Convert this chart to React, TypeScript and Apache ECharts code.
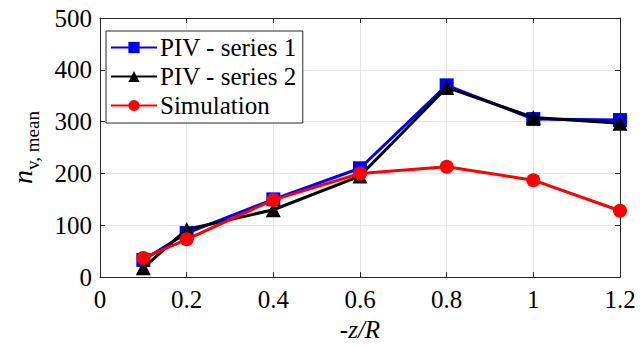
import React, { useEffect, useRef } from "react";
import * as echarts from "echarts";

const xValues = [0.1, 0.2, 0.4, 0.6, 0.8, 1.0, 1.2];
const pivSeries1 = [33, 85, 150, 210, 370, 305, 303];
const pivSeries2 = [18, 92, 130, 195, 366, 308, 297];
const simulation = [37, 73, 149, 200, 213, 187, 128];
const seriesNames = ["PIV - series 1", "PIV - series 2", "Simulation"];

const FONT = "Liberation Serif";
const AXIS_COLOR = "#262626";

function pairs(ys: number[]) {
  return xValues.map((x, i) => [x, ys[i]]);
}

export default function App() {
  const ref = useRef<HTMLDivElement>(null);
  useEffect(() => {
    if (!ref.current) return;
    const chart = echarts.init(ref.current, undefined, { renderer: "svg" });
    const axisCommon = {
      axisLine: { show: true, onZero: false, lineStyle: { color: AXIS_COLOR, width: 1 } },
      axisTick: { show: true, inside: true, length: 5, lineStyle: { color: AXIS_COLOR } },
    };
    chart.setOption({
      animation: false,
      backgroundColor: "#ffffff",
      textStyle: { fontFamily: FONT },
      grid: { left: 93, right: 24, top: 18, bottom: 68, containLabel: false },
      legend: {
        left: 106,
        top: 31,
        orient: "vertical",
        data: seriesNames,
        itemWidth: 46,
        itemHeight: 14,
        itemGap: 0,
        padding: [2, 6, 3, 4],
        borderColor: AXIS_COLOR,
        borderWidth: 1,
        backgroundColor: "#ffffff",
        textStyle: { fontFamily: FONT, fontSize: 25, color: "#000", lineHeight: 29, padding: [0, 0, 0, -2] },
      },
      xAxis: [
        {
          type: "value",
          min: 0,
          max: 1.2,
          interval: 0.2,
          ...axisCommon,
          axisLabel: { fontFamily: FONT, fontSize: 25, color: "#000", margin: 10 },
          splitLine: { show: true, lineStyle: { color: "#e6e6e6", width: 1 } },
          name: "-z/R",
          nameLocation: "middle",
          nameGap: 33,
          nameTextStyle: { fontFamily: FONT, fontSize: 25, fontStyle: "italic", color: "#000" },
        },
        {
          type: "value",
          position: "top",
          min: 0,
          max: 1.2,
          interval: 0.2,
          ...axisCommon,
          axisLabel: { show: false },
          splitLine: { show: false },
        },
      ],
      yAxis: [
        {
          type: "value",
          min: 0,
          max: 500,
          interval: 100,
          ...axisCommon,
          axisLabel: { fontFamily: FONT, fontSize: 25, color: "#000", margin: 8 },
          splitLine: { show: true, lineStyle: { color: "#e6e6e6", width: 1 } },
          name: "{i|n}{s|v, mean}",
          nameLocation: "middle",
          nameGap: 58,
          nameTextStyle: {
            fontFamily: FONT,
            color: "#000",
            rich: {
              i: { fontFamily: FONT, fontSize: 28, fontStyle: "italic", color: "#000", verticalAlign: "bottom", padding: [0, 0, 6, 0] },
              s: { fontFamily: FONT, fontSize: 19, color: "#000", verticalAlign: "bottom" },
            },
          },
        },
        {
          type: "value",
          position: "right",
          min: 0,
          max: 500,
          interval: 100,
          ...axisCommon,
          axisLabel: { show: false },
          splitLine: { show: false },
        },
      ],
      series: [
        {
          name: seriesNames[0],
          type: "line",
          data: pairs(pivSeries1),
          symbol: "rect",
          symbolSize: 14,
          lineStyle: { color: "#0000ff", width: 3 },
          itemStyle: { color: "#0000ff" },
          z: 2,
        },
        {
          name: seriesNames[1],
          type: "line",
          data: pairs(pivSeries2),
          symbol: "triangle",
          symbolSize: 15,
          lineStyle: { color: "#000000", width: 3 },
          itemStyle: { color: "#000000" },
          z: 3,
        },
        {
          name: seriesNames[2],
          type: "line",
          data: pairs(simulation),
          symbol: "circle",
          symbolSize: 14,
          lineStyle: { color: "#ff0000", width: 3 },
          itemStyle: { color: "#ff0000" },
          z: 4,
        },
      ],
    });
    return () => chart.dispose();
  }, []);
  return <div ref={ref} style={{ width: 644, height: 347, position: "absolute", left: 0, top: 0 }} />;
}
